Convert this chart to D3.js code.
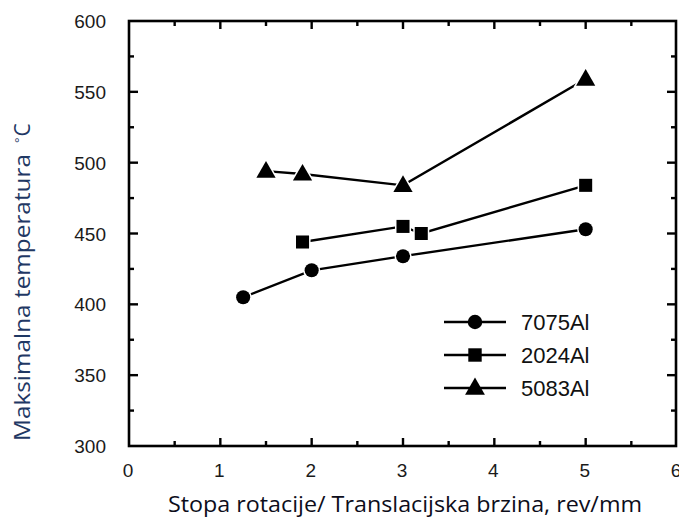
<!DOCTYPE html>
<html><head><meta charset="utf-8">
<script src="https://cdn.jsdelivr.net/npm/d3@7"></script>
<style>body{margin:0;background:#fff}svg{display:block}</style>
</head><body>
<svg id="c" width="679" height="520"></svg>
<script>
const seriesNames = ["7075Al", "2024Al", "5083Al"];
const x7075 = [1.25, 2, 3, 5];
const y7075 = [405, 424, 434, 453];
const x2024 = [1.9, 3, 3.2, 5];
const y2024 = [444, 455, 450, 484];
const x5083 = [1.5, 1.9, 3, 5];
const y5083 = [494, 492, 484, 559];
const xTicks = [0, 1, 2, 3, 4, 5, 6];
const yTicks = [300, 350, 400, 450, 500, 550, 600];
const symbols = [d3.symbolCircle, d3.symbolSquare, d3.symbolTriangle];

const svg = d3.select("#c");
const L = 129, R = 677, T = 21, B = 446;
const x = d3.scaleLinear().domain([0, 6]).range([L, R]);
const y = d3.scaleLinear().domain([300, 600]).range([B, T]);

const data = [
  x7075.map((v, i) => [v, y7075[i]]),
  x2024.map((v, i) => [v, y2024[i]]),
  x5083.map((v, i) => [v, y5083[i]])
];
const sizes = [155, 170, 160];

// ticks
const minorX = d3.range(0.5, 6, 1);
const minorY = d3.range(325, 600, 50);
const tk = svg.append("g").attr("stroke", "#000").attr("stroke-width", 2.4);
xTicks.slice(1, -1).forEach(t => {
  tk.append("line").attr("x1", x(t)).attr("x2", x(t)).attr("y1", B).attr("y2", B - 8);
  tk.append("line").attr("x1", x(t)).attr("x2", x(t)).attr("y1", T).attr("y2", T + 8);
});
minorX.forEach(t => {
  tk.append("line").attr("x1", x(t)).attr("x2", x(t)).attr("y1", B).attr("y2", B - 5);
  tk.append("line").attr("x1", x(t)).attr("x2", x(t)).attr("y1", T).attr("y2", T + 5);
});
yTicks.slice(1, -1).forEach(t => {
  tk.append("line").attr("y1", y(t)).attr("y2", y(t)).attr("x1", L).attr("x2", L + 9);
  tk.append("line").attr("y1", y(t)).attr("y2", y(t)).attr("x1", R - 1).attr("x2", R - 10);
});
minorY.forEach(t => {
  tk.append("line").attr("y1", y(t)).attr("y2", y(t)).attr("x1", L).attr("x2", L + 5);
  tk.append("line").attr("y1", y(t)).attr("y2", y(t)).attr("x1", R - 1).attr("x2", R - 6);
});
svg.append("rect").attr("x", L).attr("y", T).attr("width", R - 1 - L).attr("height", B - T)
  .attr("fill", "none").attr("stroke", "#000").attr("stroke-width", 2.6);

// tick labels
const font = "'Liberation Sans', Arial, Helvetica, sans-serif";
svg.append("g").selectAll("text").data(xTicks).join("text")
  .attr("x", d => x(d) - 1).attr("y", 477).attr("text-anchor", "middle")
  .attr("font-family", font).attr("font-size", 19).attr("fill", "#1a1a1a").text(d => d);
svg.append("g").selectAll("text").data(yTicks).join("text")
  .attr("x", 106).attr("y", d => y(d) + 7).attr("text-anchor", "end")
  .attr("font-family", font).attr("font-size", 19).attr("fill", "#1a1a1a").text(d => d);

// lines and markers
const line = d3.line().x(d => x(d[0])).y(d => y(d[1]));
data.forEach((s, i) => {
  svg.append("path").attr("d", line(s)).attr("fill", "none").attr("stroke", "#000").attr("stroke-width", 2.4);
  svg.append("g").selectAll("path").data(s).join("path")
    .attr("transform", d => `translate(${x(d[0])},${y(d[1]) + (i === 2 ? 1 : 0)})`)
    .attr("d", d3.symbol().type(symbols[i]).size(sizes[i]))
    .attr("fill", "#000").attr("stroke", "#fff").attr("stroke-width", 3).attr("paint-order", "stroke");
});

// legend
const legY = [322, 355, 388];
seriesNames.forEach((n, i) => {
  const g = svg.append("g");
  g.append("line").attr("x1", 444).attr("x2", 506).attr("y1", legY[i]).attr("y2", legY[i])
    .attr("stroke", "#000").attr("stroke-width", 2.4);
  g.append("path").attr("transform", `translate(475,${legY[i] + (i === 2 ? 1 : 0)})`)
    .attr("d", d3.symbol().type(symbols[i]).size(sizes[i] + 10)).attr("fill", "#000");
  g.append("text").attr("x", 521).attr("y", legY[i] + 8).attr("font-family", font)
    .attr("font-size", 22).attr("fill", "#111").text(n);
});

// axis titles
svg.append("text").attr("x", 168).attr("y", 512)
  .attr("font-family", "'Open Sans', 'Noto Sans', sans-serif").attr("font-size", 21)
  .attr("fill", "#0d0d1a").attr("textLength", 474).attr("lengthAdjust", "spacingAndGlyphs")
  .text("Stopa rotacije/ Translacijska brzina, rev/mm");
const yl = svg.append("text").attr("transform", "translate(30,441) rotate(-90)")
  .attr("font-family", "'Open Sans', 'Noto Sans', sans-serif").attr("font-size", 21)
  .attr("fill", "#1f3864");
yl.append("tspan").attr("textLength", 287).attr("lengthAdjust", "spacingAndGlyphs").text("Maksimalna temperatura");
yl.append("tspan").attr("dx", 11).attr("dy", -6).attr("font-size", 13).text("°");
yl.append("tspan").attr("dx", 1).attr("dy", 6).text("C");
</script>
</body></html>
